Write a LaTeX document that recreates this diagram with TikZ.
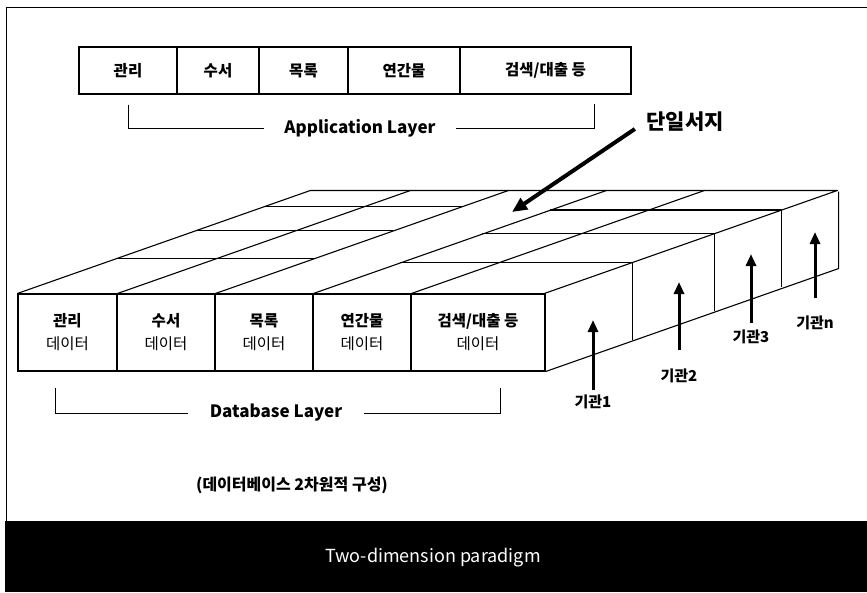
\documentclass[tikz,border=0pt]{standalone}
\usepackage{fontspec}
\setmainfont{Noto Sans CJK KR}
\usetikzlibrary{arrows.meta}
\begin{document}
\begin{tikzpicture}[x=1pt,y=-1pt,
cell/.style={draw,line width=1.1pt,inner sep=0pt,align=center,font=\bfseries\fontsize{15.5}{23}\selectfont},
layer/.style={inner xsep=20pt,inner ysep=0pt,font=\bfseries\fontsize{17}{19}\selectfont},
edge/.style={line width=1.1pt,line join=round},
brk/.style={line width=1pt},
org/.style={font=\bfseries\fontsize{15}{17}\selectfont},
uparrow/.style={line width=3pt,-{Triangle[length=12pt,width=10pt]}}]
\useasboundingbox(0,0)rectangle(867,592);
\draw[line width=1pt](6,521)--(6,7)--(867,7);
\fill(5,521)rectangle(867,592);
\node[white,font=\fontsize{18}{20}\selectfont](title)at(433,558){Two-dimension paradigm};
\foreach \xa/\xb/\txt [count=\i] in {79/177/관리,177/259/수서,259/348/목록,348/460/연간물,460/631/{검색/대출 등}}
\node[cell,minimum width={(\xb-\xa)*1pt},minimum height=47pt](app\i)at({(\xa+\xb)/2},70.5){\txt};
\node[layer](applayer)at(360,128){Application Layer};
\coordinate(appR)at(594,104);
\draw[brk]([yshift=-10pt]app1.south)|-(applayer.west)
(appR)|-(applayer.east);
\foreach \xa/\xb/\ta [count=\i] in {18/117/관리,117/215/수서,215/313/목록,313/411/연간물,411/545/{검색/대출 등}}
\node[cell,minimum width={(\xb-\xa)*1pt},minimum height=77pt](db\i)at({(\xa+\xb)/2},332.5){\ta\\{\mdseries 데이터}};
\draw[edge](db1.north west)--++(293,-103)--++(527,0)--++(-293,103)
(db5.south east)--++(293,-103)--++(0,-77);
\foreach \i in {1,...,4}
\draw[edge](db\i.north east)--++(293,-103);
\foreach \t in {0.34,0.61,0.845}
\draw[edge]([shift={(293*\t,-103*\t)}]db1.north west)--++(197,0);
\foreach \t in {0.3,0.58,0.81}
\draw[edge]([shift={(293*\t,-103*\t)}]db4.north west)--++(232,0)--++(0,77);
\node[font=\bfseries\fontsize{21}{24}\selectfont](single)at(685,122){단일서지};
\coordinate(strip)at(512,212);
\draw[line width=4pt,-{Triangle[length=15pt,width=13pt]}]([shift={(-8,7)}]single.west)--(strip);
\foreach \x/\y/\ty/\k/\s in {593/402/320/1/1,679/376/282/2/15,751/337/254/3/3,815/323/232/n/14}{
\node[org](org\k)at(\x,\y){기관\k};
\coordinate(tip\k)at(\x,\ty);
\draw[uparrow,shorten <=\s pt](tip\k|-org\k.north)--(tip\k);
}
\node[layer,inner xsep=22pt](dblayer)at(276,413){Database Layer};
\coordinate(dbL)at(55,388);
\coordinate(dbR)at(500,388);
\draw[brk](dbL)|-(dblayer.west)
(dbR)|-(dblayer.east);
\node[font=\bfseries\fontsize{16}{18}\selectfont](caption)at(292,485){(데이터베이스 2차원적 구성)};
\end{tikzpicture}
\end{document}
